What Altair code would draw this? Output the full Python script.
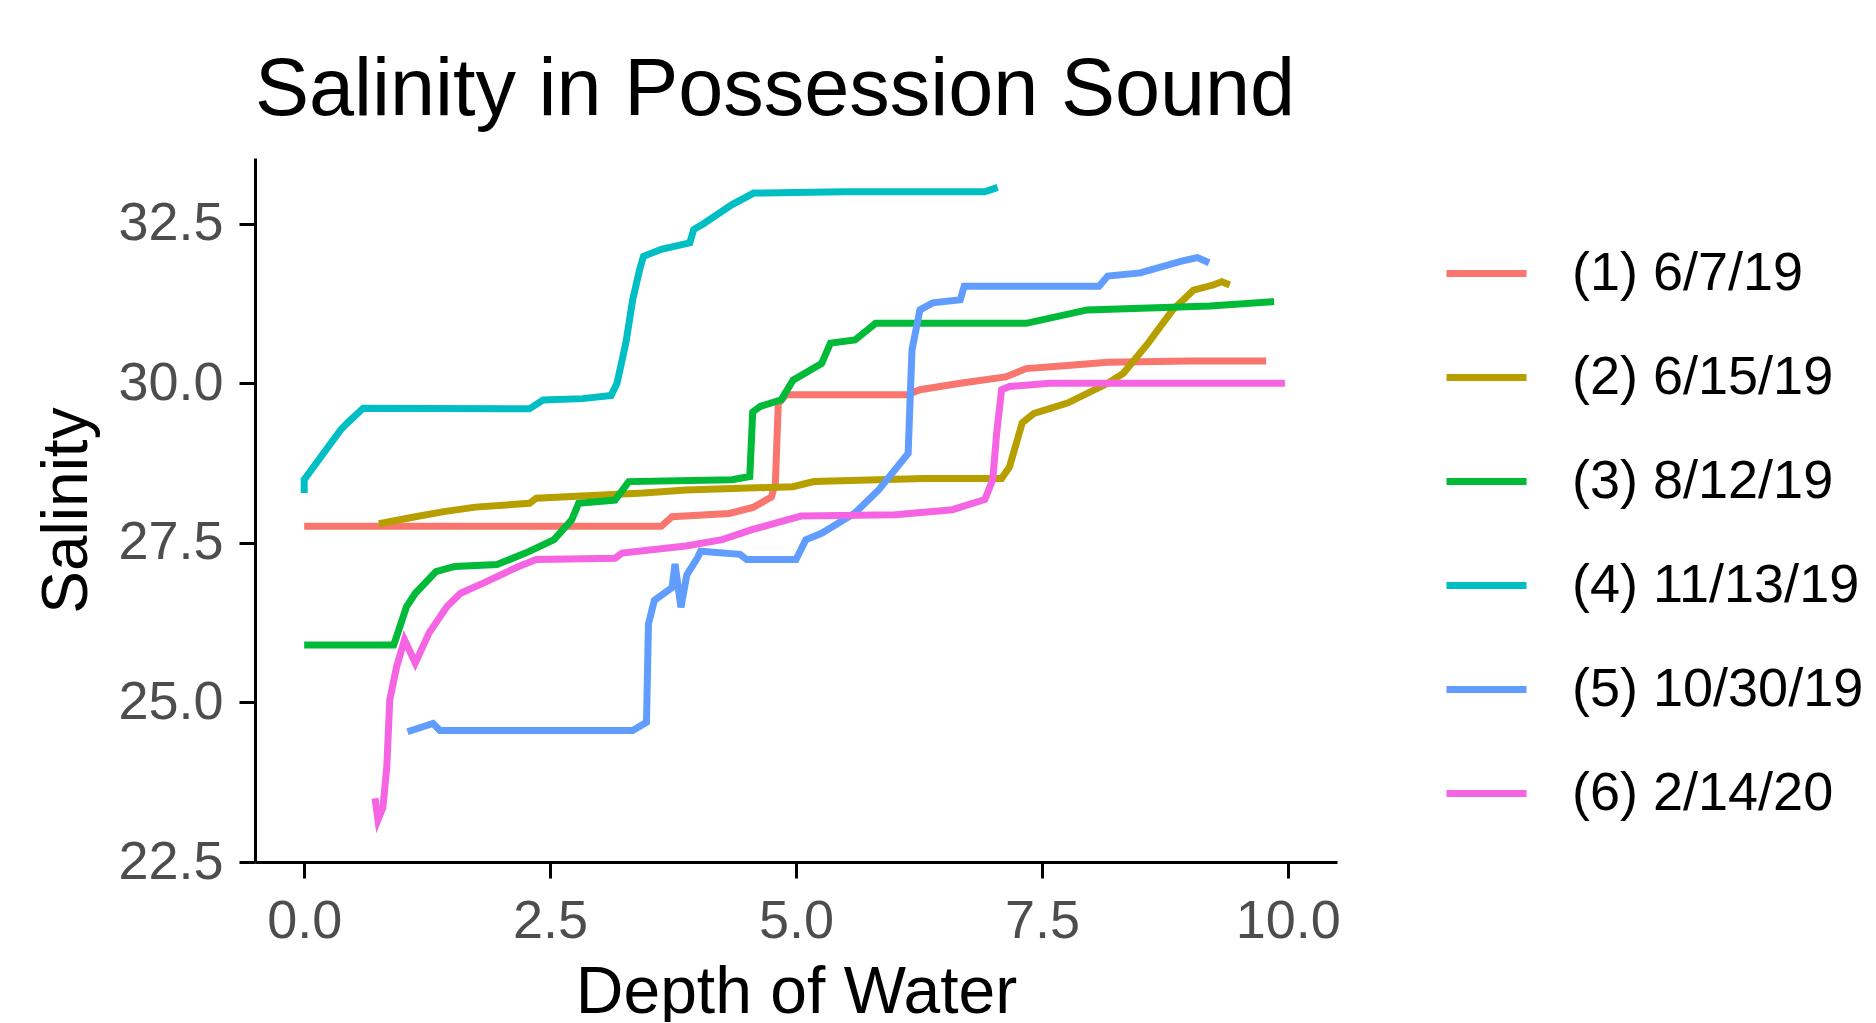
import altair as alt
import pandas as pd

labels = ["(1) 6/7/19", "(2) 6/15/19", "(3) 8/12/19", "(4) 11/13/19", "(5) 10/30/19", "(6) 2/14/20"]
colors = ["#F8766D", "#B79F00", "#00BA38", "#00BFC4", "#619CFF", "#F564E3"]

d1 = [0.0, 1.0, 2.0, 3.0, 3.63, 3.74, 4.32, 4.57, 4.75, 4.79, 4.82, 4.90, 5.5, 6.13, 6.26, 6.67, 7.13, 7.34, 7.76, 8.17, 9.0, 9.78]
s1 = [27.76, 27.76, 27.76, 27.76, 27.76, 27.91, 27.96, 28.06, 28.22, 28.43, 29.68, 29.82, 29.82, 29.82, 29.9, 30.0, 30.1, 30.23, 30.28, 30.33, 30.35, 30.35]

d2 = [0.76, 1.13, 1.42, 1.74, 2.29, 2.36, 3.45, 3.88, 4.97, 5.18, 6.30, 7.09, 7.17, 7.30, 7.42, 7.76, 8.17, 8.33, 8.58, 8.83, 9.04, 9.24, 9.33, 9.41]
s2 = [27.8, 27.91, 27.99, 28.06, 28.12, 28.2, 28.28, 28.33, 28.38, 28.46, 28.51, 28.51, 28.69, 29.38, 29.53, 29.69, 30.0, 30.16, 30.63, 31.15, 31.46, 31.54, 31.59, 31.54]

d3 = [0.0, 0.91, 0.95, 1.04, 1.13, 1.34, 1.53, 1.96, 2.25, 2.54, 2.72, 2.79, 3.16, 3.30, 4.35, 4.53, 4.56, 4.64, 4.85, 4.97, 5.26, 5.35, 5.60, 5.81, 7.34, 7.96, 9.21, 9.86]
s3 = [25.9, 25.9, 26.08, 26.5, 26.71, 27.05, 27.13, 27.16, 27.34, 27.55, 27.86, 28.12, 28.17, 28.46, 28.49, 28.54, 29.55, 29.64, 29.74, 30.05, 30.31, 30.63, 30.68, 30.94, 30.94, 31.15, 31.21, 31.28]

d4 = [0.0, 0.0, 0.37, 0.44, 0.60, 2.29, 2.43, 2.83, 3.12, 3.18, 3.27, 3.34, 3.41, 3.45, 3.63, 3.92, 3.96, 4.06, 4.35, 4.57, 5.5, 6.92, 7.05]
s4 = [28.28, 28.49, 29.27, 29.38, 29.61, 29.6, 29.74, 29.76, 29.81, 30.0, 30.63, 31.31, 31.78, 31.99, 32.1, 32.2, 32.41, 32.5, 32.8, 32.98, 33.0, 33.0, 33.07]

d5 = [1.05, 1.31, 1.38, 3.34, 3.48, 3.50, 3.56, 3.74, 3.77, 3.83, 3.89, 4.0, 4.03, 4.43, 4.50, 5.0, 5.1, 5.26, 5.6, 5.84, 6.14, 6.16, 6.18, 6.26, 6.39, 6.67, 6.71, 7.54, 8.08, 8.17, 8.50, 8.91, 9.08, 9.20]
s5 = [24.54, 24.67, 24.56, 24.56, 24.69, 26.23, 26.6, 26.8, 27.17, 26.49, 27.0, 27.27, 27.37, 27.32, 27.24, 27.24, 27.55, 27.65, 27.97, 28.33, 28.9, 29.74, 30.53, 31.15, 31.26, 31.31, 31.52, 31.52, 31.52, 31.68, 31.73, 31.91, 31.97, 31.89]

d6 = [0.72, 0.75, 0.80, 0.84, 0.87, 0.94, 1.02, 1.13, 1.27, 1.45, 1.59, 1.82, 2.18, 2.36, 3.16, 3.23, 3.88, 4.25, 4.56, 5.05, 6.01, 6.59, 6.92, 7.0, 7.04, 7.09, 7.17, 7.58, 8.17, 9.97]
s6 = [23.5, 23.16, 23.35, 23.99, 25.04, 25.56, 25.98, 25.62, 26.09, 26.5, 26.71, 26.87, 27.13, 27.24, 27.26, 27.34, 27.45, 27.55, 27.71, 27.92, 27.94, 28.02, 28.18, 28.49, 29.22, 29.9, 29.95, 30.0, 30.0, 30.0]

depths = [d1, d2, d3, d4, d5, d6]
sals = [s1, s2, s3, s4, s5, s6]

rows = []
for lab, ds, ss in zip(labels, depths, sals):
    for i, (d, s) in enumerate(zip(ds, ss)):
        rows.append({"Date": lab, "Depth": d, "Salinity": s, "idx": i})
df = pd.DataFrame(rows)

FONT = "Liberation Sans"

chart = alt.Chart(df).mark_line(strokeWidth=7).encode(
    x=alt.X("Depth:Q",
            scale=alt.Scale(domain=[-0.5, 10.5], nice=False, zero=False),
            axis=alt.Axis(values=[0, 2.5, 5, 7.5, 10], format=".1f", title="Depth of Water",
                          labelFontSize=54, titleFontSize=66, labelPadding=16, titlePadding=12,
                          tickSize=16)),
    y=alt.Y("Salinity:Q",
            scale=alt.Scale(domain=[22.5, 33.53], nice=False, zero=False),
            axis=alt.Axis(values=[22.5, 25, 27.5, 30, 32.5], format=".1f", title="Salinity",
                          labelFontSize=54, titleFontSize=64, labelPadding=16, titlePadding=18,
                          tickSize=16)),
    color=alt.Color("Date:N",
                    scale=alt.Scale(domain=labels, range=colors),
                    legend=alt.Legend(title=None, orient="none", legendX=1188, legendY=72,
                                      symbolType="stroke", symbolSize=6400, symbolStrokeWidth=7,
                                      labelFontSize=54, labelFont=FONT, labelColor="black",
                                      labelOffset=42, rowPadding=33, labelLimit=0)),
    order="idx:Q",
).properties(
    width=1082,
    height=704,
    title=alt.TitleParams("Salinity in Possession Sound", fontSize=81, font=FONT,
                          fontWeight="normal", color="black", anchor="start", frame="group",
                          offset=26),
    padding={"left": 247, "top": 150, "right": 530, "bottom": 160},
    autosize=alt.AutoSizeParams(type="none"),
).configure_view(stroke=None).configure_axis(
    grid=False, domainColor="black", domainWidth=3, tickColor="black", tickWidth=3,
    labelColor="#4D4D4D", labelFont=FONT, titleFont=FONT, titleFontWeight="normal",
    titleColor="black",
)

chart.save("out.html", embed_options={"renderer": "svg", "actions": False})
